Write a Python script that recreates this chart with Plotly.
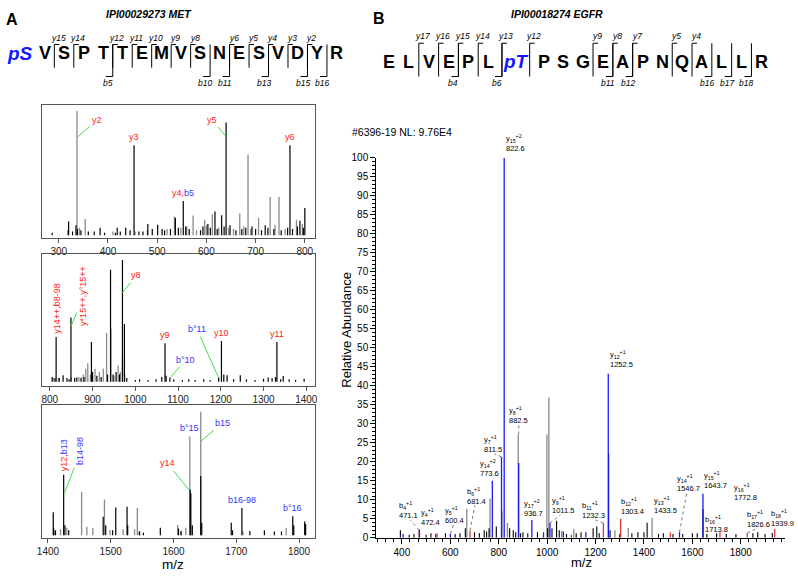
import plotly.graph_objects as go

# ----------------------------------------------------------------- data
# Panel A, spectrum 1 (m/z 270-820)
A1_gray_mz = [337, 684.6, 729.5, 747.6, 667.8, 612, 535, 573, 706, 596.6, 783, 353.7, 739.6, 318, 342,
              480, 520, 548, 600, 625, 655, 676, 690, 760, 795, 410, 455, 560, 580, 645]
A1_gray_int = [100, 65, 30.8, 30.8, 17.6, 16.8, 15, 15.8, 14, 12.4, 12.4, 13, 8.4, 4, 6,
               4, 5, 6, 8, 6, 5, 7, 5, 5, 9, 3, 3, 7, 4, 6]
A1_black_mz = [453, 640, 769.8, 553, 800, 617.4, 631, 320, 481, 418.8, 286.6, 384, 436, 501, 558, 692.6,
               719.5, 790, 338, 345, 360, 372, 393, 415, 425, 445, 463, 471, 490, 510, 515, 527, 537,
               543, 565, 588, 593, 603, 608, 622, 636, 648, 660, 672, 680, 700, 712, 725, 737, 752,
               765, 775, 785, 797, 335, 328]
A1_black_int = [72.4, 90.8, 72.4, 27.6, 22, 19, 16, 11, 9, 6, 2, 6, 6, 8.4, 7, 7,
                8, 11.6, 5, 4, 3, 3, 2, 2, 3, 4, 3, 3, 5, 5, 4, 5, 14,
                6, 5, 4, 7, 9, 6, 5, 7, 8, 4, 5, 6, 5, 4, 6, 5, 4,
                6, 5, 7, 6, 8, 3]

# Panel A, spectrum 2 (m/z 780-1420)
A2_gray_mz = [932.8, 942.9, 970, 959.8, 888.8, 884, 905.8, 925, 915.8, 868, 850, 878, 895, 950, 965,
              975, 808, 820]
A2_gray_int = [40, 43.7, 21.4, 13.4, 15.3, 10.7, 10.7, 10.7, 8, 4, 4, 6, 6, 5, 8,
               6, 3, 3]
A2_black_mz = [969.9, 942, 849.4, 814.7, 897.3, 1069.5, 1201.5, 1331.3, 974.5, 805.4, 831, 863, 873,
               1081, 1195, 1207, 1214.7, 1245.6, 1328, 1346, 1311, 1010, 1048.6, 1090, 1110, 1125,
               1140, 1160, 1175, 1230, 1260, 1280, 1300, 1320, 1340, 1360, 1375, 1395, 812, 822,
               840, 845, 858, 880, 900, 910, 920, 935, 948, 955, 963, 980, 1062, 1072, 1000, 1030]
A2_black_int = [100, 92, 52.8, 36.7, 32.7, 31.6, 33.5, 32.7, 47.5, 4, 5.4, 3.5, 3.2,
                3.5, 4, 6, 5.4, 5.4, 4, 4.8, 3.5, 2, 2, 2, 1.5, 2,
                1.5, 2, 1.5, 2, 2, 1.5, 2.5, 3, 2, 2, 1.5, 2.5, 3, 3,
                3, 2, 3, 4, 8, 5, 4, 6, 6, 8, 6, 3, 4, 5, 1.5, 1.5]

# Panel A, spectrum 3 (m/z 1390-1825)
A3_gray_mz = [1643.4, 1626, 1453.6, 1490, 1542.4, 1462, 1471.5, 1420, 1498.8, 1519.8, 1538, 1606.6,
              1619.7, 1710.6, 1779.5, 1410, 1430, 1612, 1545]
A3_gray_int = [100, 80, 35, 29, 22, 6.9, 5.8, 4.8, 4.2, 4.8, 4.8, 8.2,
               6, 3, 6, 3, 6, 4, 3]
A3_black_mz = [1643.4, 1626.5, 1627.6, 1425, 1408.4, 1488, 1508, 1526, 1579, 1608, 1692, 1709, 1721.7,
               1744.8, 1760.6, 1772, 1790, 1791.6, 1809, 1810.5, 1409, 1427, 1433, 1492, 1503, 1527,
               1546, 1552, 1612, 1630, 1645, 1694, 1412]
A3_black_int = [47.9, 37, 34, 49, 18.5, 15, 22.5, 23, 6, 5.5, 10, 22, 3.4,
                4, 3, 3, 15.3, 8, 11, 9, 6, 8, 4, 8, 4, 8,
                3, 2, 3, 8, 10, 4, 4]

# Panel A fragment labels
A1_lab_text = ["y2", "y3", "y5", "y6", "y4,|b5"]
A1_lab_mz = [337, 453, 640, 769.8, 553]
A1_lab_int = [78.7, 72.4, 79.5, 72.4, 27.6]
A2_lab_text = ["y14++,b8-98", "y*15++,y°15++", "y8", "y9", "|b°11", "|b°10", "y10", "y11"]
A2_lab_mz = [814.7, 849.4, 969.9, 1069.5, 1195, 1083, 1201.5, 1331.3]
A2_lab_int = [36.7, 45.6, 73.2, 31.6, 3.2, 4, 33.5, 32.7]
A3_lab_text = ["y12,|b13", "|b14-98", "|b°15", "|b15", "y14", "|b16-98", "|b°16"]
A3_lab_mz = [1425, 1426, 1626, 1643.4, 1625, 1709, 1790]
A3_lab_int = [49, 33.9, 80, 76, 36.5, 22, 15.3]

# Panel B spectrum
B_gray_mz = [1007, 999, 880.5, 668, 764, 836, 1110, 1335, 1280, 1433.5, 1060]
B_gray_int = [36.9, 27.2, 27.2, 7.6, 10.3, 3.9, 2.3, 2.6, 2.0, 5.2, 1.8]
B_black_mz = [1254, 812.5, 393.7, 1039, 1413, 1643.7, 1930, 1190, 1205, 750, 760, 790, 845, 860, 1002,
              1020, 1375, 1480, 1600, 1850, 1870, 500, 520, 640, 662, 700, 900, 920, 960, 1050,
              1080, 1120, 1260, 1300, 1350, 1400, 1460, 1520, 1560, 1620, 1660, 1700, 1740, 1780,
              1900, 430, 450, 540, 580, 620, 720, 740, 870, 890, 1140, 1215]
B_black_int = [22.1, 7.0, 2.0, 4.5, 4.0, 7.6, 1.3, 2.5, 3.0, 1.7, 2.5, 3.0, 2.5, 2.0, 2.5,
               2.5, 1.5, 1.2, 1.2, 1.2, 1.5, 0.8, 1.2, 1.2, 2.5, 1.5, 1.5, 1.2, 1.5, 2.0,
               1.0, 1.2, 2.0, 1.0, 1.2, 1.5, 1.0, 1.0, 1.0, 1.2, 1.0, 1.2, 1.0, 1.0,
               1.0, 0.8, 1.0, 1.0, 1.2, 1.0, 1.2, 2.0, 1.5, 1.2, 1.5, 1.2]
B_red_mz = [471.1, 681.4, 1232.3, 1303.4, 1509, 1713.8, 1826.6, 1939.9, 545, 1100]
B_red_int = [2.0, 1.9, 3.9, 5.0, 1.5, 1.5, 1.3, 2.3, 1.2, 0.8]
B_blue_mz = [822.6, 1252.5, 882.5, 811.5, 773.6, 936.7, 1011.5, 1067, 1643.7, 1546.7, 600.4, 472.4,
             405, 985, 1160]
B_blue_int = [100, 43.2, 19.7, 21.3, 15.0, 4.7, 3.9, 1.7, 11.6, 1.5, 1.1, 2.2,
              1.0, 1.5, 1.5]

# Panel B labels
B_ion = ["y", "b", "y", "y", "b", "y", "y", "y", "y", "y", "b", "y", "b", "y", "y", "y", "b", "y", "b", "b"]
B_num = [15, 4, 4, 5, 6, 14, 7, 8, 17, 9, 11, 12, 12, 13, 14, 15, 16, 16, 17, 18]
B_charge = [2, 1, 1, 1, 1, 2, 1, 1, 2, 1, 1, 1, 1, 1, 1, 1, 1, 1, 1, 1]
B_lab_mz = [822.6, 471.1, 472.4, 600.4, 681.4, 773.6, 811.5, 882.5, 936.7, 1011.5, 1232.3, 1252.5,
            1303.4, 1433.5, 1546.7, 1643.7, 1713.8, 1772.8, 1826.6, 1939.9]
B_lab_int = [100, 2.0, 2.2, 1.1, 1.9, 15, 21.3, 27.2, 4.7, 3.9, 3.9, 43.2, 5.0, 5.2, 1.5, 11.6, 1.5,
             0.5, 1.3, 2.3]

# Sequences
SEQ_A = ["pS", "V", "S", "P", "T", "T", "E", "M", "V", "S", "N", "E", "S", "V", "D", "Y", "R"]
Y_IONS_A = [15, 14, 12, 11, 10, 9, 8, 6, 5, 4, 3, 2]
B_IONS_A = [5, 10, 11, 13, 15, 16]
SEQ_B = ["E", "L", "V", "E", "P", "L", "pT", "P", "S", "G", "E", "A", "P", "N", "Q", "A", "L", "L", "R"]
Y_IONS_B = [17, 16, 15, 14, 13, 12, 9, 8, 7, 5, 4]
B_IONS_B = [4, 6, 11, 12, 16, 17, 18]

# ----------------------------------------------------------------- style / layout helpers
W, H = 798, 584
FONT = "Liberation Sans, Arial, sans-serif"
RED = "#ff2020"
BLUE = "#3333ff"
GREEN = "#44e044"
GRAY = "#8a8a8a"
BBLUE = "#1a1aff"
BRED = "#d83c3c"


def fx(x):
    return x / W


def fy(y):
    return 1 - y / H


fig = go.Figure()


def add_stems(mz, inten, color, width, xa, ya):
    xs, ys = [], []
    for m, h in zip(mz, inten):
        xs += [m, m, None]
        ys += [0, h, None]
    fig.add_trace(go.Scatter(x=xs, y=ys, mode="lines", line=dict(color=color, width=width),
                             xaxis=xa, yaxis=ya, hoverinfo="skip", showlegend=False))


add_stems(A1_gray_mz, A1_gray_int, GRAY, 1.3, "x", "y")
add_stems(A1_black_mz, A1_black_int, "black", 1.2, "x", "y")
add_stems(A2_gray_mz, A2_gray_int, GRAY, 1.3, "x2", "y2")
add_stems(A2_black_mz, A2_black_int, "black", 1.2, "x2", "y2")
add_stems(A3_gray_mz, A3_gray_int, GRAY, 1.3, "x3", "y3")
add_stems(A3_black_mz, A3_black_int, "black", 1.2, "x3", "y3")
add_stems(B_gray_mz, B_gray_int, GRAY, 1.3, "x4", "y4")
add_stems(B_black_mz, B_black_int, "black", 1.1, "x4", "y4")
add_stems(B_red_mz, B_red_int, BRED, 1.3, "x4", "y4")
add_stems(B_blue_mz, B_blue_int, BBLUE, 1.3, "x4", "y4")

frame = dict(showline=True, mirror=True, linecolor="#555", linewidth=1, showgrid=False,
             zeroline=False)
xa_common = dict(frame, ticks="outside", ticklen=4, tickcolor="#555", dtick=100,
                 tickfont=dict(size=10, color="#222", family=FONT))
ya_common = dict(frame, showticklabels=False, ticks="")

A_X = (37.7, 313.3)
fig.update_layout(
    xaxis=dict(xa_common, domain=[fx(A_X[0]), fx(A_X[1])], range=[266.6, 821], anchor="y", tick0=0),
    yaxis=dict(ya_common, domain=[fy(237.3), fy(101)], range=[-2.6, 105], anchor="x"),
    xaxis2=dict(xa_common, domain=[fx(A_X[0]), fx(A_X[1])], range=[782.4, 1420.8], anchor="y2", tick0=0),
    yaxis2=dict(ya_common, domain=[fy(388), fy(253.7)], range=[-3.5, 104.5], anchor="x2"),
    xaxis3=dict(xa_common, domain=[fx(A_X[0]), fx(A_X[1])], range=[1391, 1825.7], anchor="y3", tick0=0),
    yaxis3=dict(ya_common, domain=[fy(542.7), fy(407.7)], range=[-1.9, 105.2], anchor="x3"),
    xaxis4=dict(domain=[fx(375), fx(788)], range=[294, 1983], anchor="y4", showline=True,
                linecolor="black", linewidth=1, showgrid=False, zeroline=False, ticks="outside",
                ticklen=5, tickcolor="black", tick0=0, dtick=200,
                minor=dict(ticks="outside", ticklen=3, dtick=200 / 6, tick0=0, tickcolor="black"),
                tickfont=dict(size=10, color="black", family=FONT)),
    yaxis4=dict(domain=[fy(543), fy(155)], range=[0, 100], anchor="x4", showline=True,
                linecolor="black", linewidth=1, showgrid=False, zeroline=False, ticks="outside",
                ticklen=5, tickcolor="black", tick0=0, dtick=5,
                minor=dict(ticks="outside", ticklen=3, dtick=1, tick0=0, tickcolor="black"),
                tickfont=dict(size=10, color="black", family=FONT)),
)

ann = []
shapes = []


def colored(txt):
    # "|" separates a red part from a blue part
    if "|" in txt:
        r, b = txt.split("|")
        s = ""
        if r:
            s += f"<span style='color:{RED}'>{r}</span>"
        s += f"<span style='color:{BLUE}'>{b}</span>"
        return s
    return f"<span style='color:{RED}'>{txt}</span>"


def a_label(txt, mz, h, xa, ya, off=None, rot=False):
    d = dict(x=mz, y=h, xref=xa, yref=ya, text=colored(txt),
             font=dict(size=9, family=FONT), textangle=-90 if rot else 0)
    if off is None:
        d.update(showarrow=False, yanchor="bottom", xanchor="center", yshift=1)
    else:
        d.update(showarrow=True, ax=off[0], ay=off[1], arrowhead=0, arrowwidth=1,
                 arrowcolor=GREEN, standoff=0, startstandoff=1)
    ann.append(d)


A1_off = [(20, -17.7), None, (-14, -16.7), None, None]
for t, m, h, o in zip(A1_lab_text, A1_lab_mz, A1_lab_int, A1_off):
    a_label(t, m, h, "x", "y", o)

A2_off = [None, (12.7, -30), (14, -17.3), None, (-21.7, -48.7), (15, -17.3), None, None]
A2_rot = [True, True, False, False, False, False, False, False]
for t, m, h, o, r in zip(A2_lab_text, A2_lab_mz, A2_lab_int, A2_off, A2_rot):
    a_label(t, m, h, "x2", "y2", o, r)

A3_off = [None, (16.3, -42), None, (21.7, -18.3), (-21.7, -26.7), None, None]
A3_rot = [True, True, False, False, False, False, False]
for t, m, h, o, r in zip(A3_lab_text, A3_lab_mz, A3_lab_int, A3_off, A3_rot):
    a_label(t, m, h, "x3", "y3", o, r)

# Panel B labels: text offset (dx, dy) in px from the peak top, and whether a dashed leader is drawn
B_off = [(11, -15), (-11, -20), (11, -12), (4, -19), (6, -35), (-3, -13), (-9, -13), (0, -19),
         (2, -12), (13, -18), (-10, -13), (13, -15), (12, -13), (13, -13), (9, -49), (13, -14),
         (-3, -8), (11, -44), (11, -14), (8, -11)]
B_lead = [False, True, False, True, True, False, True, True, False, True, True, False, False,
          False, True, False, False, False, True, False]
for ion, n, z, m, h, (dx, dy), lead in zip(B_ion, B_num, B_charge, B_lab_mz, B_lab_int, B_off, B_lead):
    txt = f"{ion}<sub>{n}</sub><sup>+{z}</sup><br>{m:.1f}"
    ann.append(dict(x=m, y=h, xref="x4", yref="y4", text=txt, showarrow=False, xshift=dx,
                    yshift=-dy, xanchor="center", yanchor="middle", align="left",
                    font=dict(size=7.5, family=FONT, color="black")))
    if lead:
        shapes.append(dict(type="line", xref="x4", yref="y4", xsizemode="pixel", ysizemode="pixel",
                           xanchor=m, yanchor=h, x0=0, y0=0, x1=dx * 0.8, y1=-(dy + 10),
                           line=dict(color="#555", width=0.8, dash="dot")))

# titles / axis titles
txt_common = dict(xref="paper", yref="paper", showarrow=False, xanchor="center", yanchor="middle")
ann += [
    dict(txt_common, x=fx(7), y=fy(14), text="<b>A</b>", font=dict(size=16, family=FONT, color="black")),
    dict(txt_common, x=fx(378), y=fy(13), text="<b>B</b>", font=dict(size=16, family=FONT, color="black")),
    dict(txt_common, x=fx(145), y=fy(8), text="<b><i>IPI00029273 MET</i></b>",
         font=dict(size=10.5, family=FONT, color="black")),
    dict(txt_common, x=fx(558), y=fy(8), text="<b><i>IPI00018274 EGFR</i></b>",
         font=dict(size=10.5, family=FONT, color="black")),
    dict(txt_common, x=fx(348), y=fy(129), xanchor="left", text="#6396-19 NL: 9.76E4",
         font=dict(size=10.5, family=FONT, color="black")),
    dict(txt_common, x=fx(345), y=fy(331), text="Relative Abundance", textangle=-90,
         font=dict(size=13, family=FONT, color="black")),
    dict(txt_common, x=fx(582), y=fy(568), text="m/z", font=dict(size=13, family=FONT, color="black")),
    dict(txt_common, x=fx(170), y=fy(570), text="m/z", font=dict(size=13.5, family=FONT, color="black")),
]


# ----------------------------------------------------------------- peptide sequences with fragment brackets
def draw_sequence(seq, y_ions, b_ions, x0, slot, pslot, ymid, y_top, y_bot_y, b_bot):
    widths = [pslot if s.startswith("p") else slot for s in seq]
    centers = [x0]
    for i in range(1, len(seq)):
        centers.append(centers[-1] + (widths[i - 1] + widths[i]) / 2)
    for s, c in zip(seq, centers):
        if s.startswith("p"):
            ann.append(dict(txt_common, x=fx(c), y=fy(ymid), text=f"<b><i>{s}</i></b>",
                            font=dict(size=19, family=FONT, color="#1515ff")))
        else:
            ann.append(dict(txt_common, x=fx(c), y=fy(ymid), text=f"<b>{s}</b>",
                            font=dict(size=18, family=FONT, color="black")))
    L = len(seq)

    def gap(k):  # boundary after residue index k-1
        return (centers[k - 1] + centers[k]) / 2

    line = dict(color="black", width=1)
    for n in y_ions:
        gx = gap(L - n)
        shapes.append(dict(type="line", xref="paper", yref="paper", x0=fx(gx), x1=fx(gx),
                           y0=fy(y_top), y1=fy(y_bot_y), line=line))
        shapes.append(dict(type="line", xref="paper", yref="paper", x0=fx(gx), x1=fx(gx + 5),
                           y0=fy(y_top), y1=fy(y_top), line=line))
        ann.append(dict(txt_common, x=fx(gx + 4), y=fy(y_top - 7), text=f"<i>y{n}</i>",
                        font=dict(size=8.5, family=FONT, color="black")))
    for n in b_ions:
        gx = gap(n)
        shapes.append(dict(type="line", xref="paper", yref="paper", x0=fx(gx), x1=fx(gx),
                           y0=fy(y_top), y1=fy(b_bot), line=line))
        shapes.append(dict(type="line", xref="paper", yref="paper", x0=fx(gx - 7), x1=fx(gx),
                           y0=fy(b_bot), y1=fy(b_bot), line=line))
        ann.append(dict(txt_common, x=fx(gx - 5), y=fy(b_bot + 7), text=f"<i>b{n}</i>",
                        font=dict(size=8.5, family=FONT, color="black")))


draw_sequence(SEQ_A, Y_IONS_A, B_IONS_A, 15, 19.67, 30.3, 48, 39.3, 63, 72)
draw_sequence(SEQ_B, Y_IONS_B, B_IONS_B, 388, 20, 36, 57, 38, 72, 72)

fig.update_layout(width=W, height=H, autosize=False, margin=dict(l=0, r=0, t=0, b=0),
                  paper_bgcolor="white", plot_bgcolor="white", annotations=ann, shapes=shapes,
                  font=dict(family=FONT, color="black"), showlegend=False)

fig.write_html("out.html", config={"displayModeBar": False},
               post_script="document.body.style.margin='0';")
